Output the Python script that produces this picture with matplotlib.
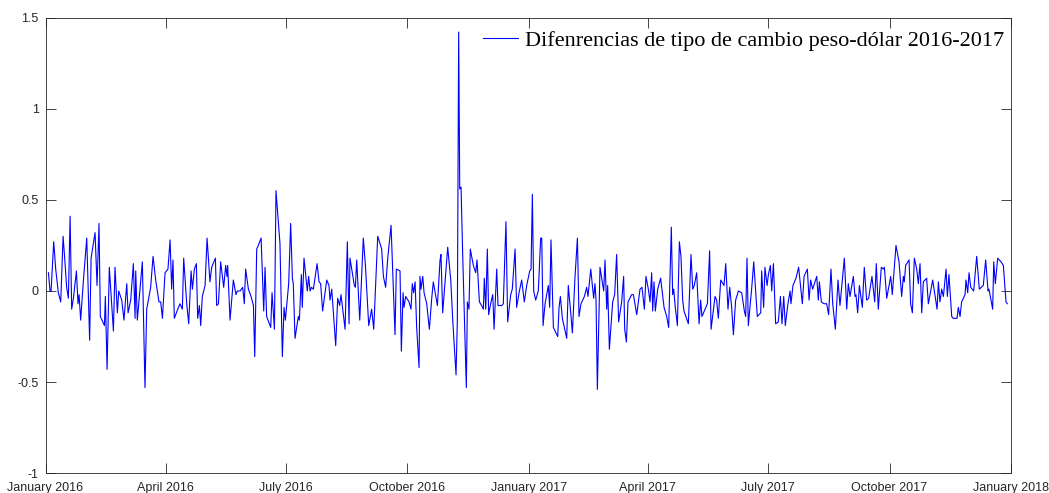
import numpy as np
import pandas as pd
import matplotlib
matplotlib.use('Agg')
import matplotlib.pyplot as plt
import matplotlib.dates as mdates
from matplotlib.ticker import FuncFormatter

plt.rcParams['axes.unicode_minus'] = False

# days since 1 Jan 2016
days = [2.2, 3.4, 4.2, 6.2, 7.7, 9.7, 11.5, 13.3, 14.8, 16.0, 17.3, 18.6, 19.8, 21.1,
        23.4, 24.6, 25.4, 26.6, 28.7, 31.2, 33.4, 34.5, 37.5, 39.0, 40.5, 41.5, 44.6,
        45.3, 46.6, 48.3, 51.4, 52.6, 54.4, 55.4, 57.7, 59.4, 61.5, 62.5, 64.5, 66.5,
        67.8,
        68.3, 69.5, 73.3, 75.3, 76.6, 79.6, 81.4, 83.4, 85.9, 87.2, 88.5, 90.5, 92.7,
        94.3, 95.5, 96.5, 97.5, 100.1, 101.8, 103.6, 104.6, 106.9, 108.4, 110.2, 111.2,
        112.7, 114.2, 115.2, 116.5, 117.5, 118.7, 120.8, 122.3, 124.5, 125.8, 128.6,
        129.6, 130.9, 132.6, 134.9, 136.4, 137.4, 137.9,
        139.7, 142.2, 144.2, 145.2, 147.3, 149.3, 150.5, 151.5, 153.6, 155.6, 157.4,
        158.4, 159.9, 161.1, 163.2, 165.2, 166.2, 167.4, 170.5, 171.5, 173.3, 174.5,
        177.5, 179.3, 180.6, 181.6, 184.1, 185.6, 186.9, 187.6, 188.9, 191.4, 192.2,
        193.7, 194.4, 195.7, 198.2, 199.2, 200.3, 201.3, 202.8, 205.6, 207.1, 208.3,
        209.8,
        211.6, 212.9, 214.6, 215.4, 216.7, 219.7, 221.2, 222.7, 223.7, 226.8, 228.5,
        229.8, 230.5, 231.8, 233.8, 234.6, 235.6, 237.9, 240.6, 242.2, 244.7, 246.9,
        248.5, 251.5, 254.5, 255.8, 257.5, 259.1, 261.6, 264.6, 265.6, 268.4, 269.4,
        270.7, 271.4, 272.7, 275.2, 276.7, 277.7, 278.7, 279.8, 281.0, 282.8,
        283.5, 284.3, 285.6, 286.6, 288.6, 290.6, 292.4, 293.6, 296.7, 298.7, 299.4,
        300.7, 304.5, 306.8, 308.3, 310.8, 311.8, 312.8, 313.6, 314.6, 315.8, 318.6,
        319.4, 320.6, 321.6, 323.9, 325.7, 326.7, 328.5, 330.2, 331.5, 332.2, 333.3,
        334.5, 335.5, 337.0, 338.6, 339.6, 341.6, 342.6, 345.4, 346.6, 348.6, 349.9,
        352.2, 353.4,
        355.5, 356.7, 358.5, 360.5, 362.5, 364.3, 366.6, 367.6, 368.6, 369.6, 371.1,
        373.1, 374.9, 375.7, 376.7, 378.2, 380.7, 381.7, 382.7, 384.5, 387.8, 388.8,
        389.8, 391.3, 394.6, 395.8, 397.4, 398.9, 400.9, 402.7, 403.9, 405.4, 408.0,
        409.7, 410.7, 412.8, 415.0, 416.0, 416.8, 417.8, 419.8, 422.6, 423.6, 424.9,
        425.6, 426.9,
        429.4, 430.9, 432.4, 433.9, 436.2, 437.7, 438.5, 439.8, 441.0, 443.8, 445.1,
        447.6, 450.1, 451.6, 453.4, 454.6, 456.4, 457.7, 458.9, 459.7, 460.7, 461.7,
        463.5, 465.7, 468.3, 470.3, 471.8, 473.8, 474.8, 475.6, 476.8, 478.4, 479.9,
        481.1, 482.4, 483.4, 486.7, 488.7, 490.0, 491.2, 493.0, 494.8, 496.0, 497.0,
        499.3, 501.1, 502.8, 503.9, 506.9, 508.1, 509.4, 511.2, 513.7, 515.0, 516.7,
        518.0, 519.5, 520.8, 522.5, 524.6, 527.1, 529.1, 530.1, 531.1, 532.1, 534.6,
        536.2, 538.9, 541.5, 542.2, 543.7, 544.7, 546.3, 547.3, 548.8, 549.8, 551.1,
        552.8, 554.8, 556.4, 557.6, 558.9, 560.1, 561.9, 563.7, 564.4, 565.9, 568.2,
        570.2,
        573.0, 574.3, 576.8, 578.1, 579.3, 580.8, 583.9, 585.1, 585.9, 587.4, 589.4,
        591.4, 592.9, 594.7, 596.0, 598.0, 600.0, 601.5, 604.8, 606.6, 607.8, 609.1,
        611.6, 612.9, 613.6, 614.9, 616.2, 618.4, 619.9, 621.7, 623.2, 625.7, 627.8,
        629.0, 630.5, 632.8, 634.3, 635.1, 636.9, 639.9, 641.1,
        643.9, 646.2, 648.2, 649.5, 650.2, 651.2, 653.8, 655.0, 656.3, 657.8, 659.6,
        660.8, 662.1, 663.4, 664.6, 667.1, 668.4, 671.7, 675.0, 676.0, 677.2, 678.5,
        679.8, 681.8, 682.8, 684.0, 686.1, 687.3, 690.1, 691.1, 692.4, 693.6, 696.2,
        696.9, 698.2, 699.2, 700.5, 702.7, 705.0, 707.0, 710.0, 711.8, 713.6, 714.3,
        717.1, 717.9, 719.1, 720.9, 723.4, 725.2, 727.2, 728.2]

# daily peso-dollar differences
dif = [0.10, 0.00, 0.00, 0.27, 0.12, -0.01, -0.06, 0.30, 0.15, 0.02, -0.04, 0.41, -0.10, -0.04,
       0.11, -0.07, -0.02, -0.16, 0.06, 0.29, -0.27, 0.18, 0.32, 0.03, 0.37, -0.14, -0.19,
       -0.03, -0.43, 0.13, -0.22, 0.13, -0.12, 0.00, -0.05, -0.16, 0.04, -0.12, -0.05, 0.15,
       -0.15,
       0.11, -0.16, 0.16, -0.53, -0.10, 0.02, 0.19, 0.06, -0.06, -0.06, -0.15, 0.10, 0.12,
       0.28, 0.01, 0.17, -0.15, -0.10, -0.07, -0.10, 0.18, -0.07, -0.18, 0.11, 0.01,
       0.12, 0.15, -0.15, -0.08, -0.19, -0.03, 0.03, 0.29, 0.05, 0.13, 0.18,
       -0.08, -0.07, 0.16, 0.02, 0.14, 0.08, 0.14,
       -0.16, 0.06, -0.02, 0.00, 0.00, 0.02, -0.07, 0.12, 0.01, -0.03, -0.08,
       -0.36, 0.23, 0.25, 0.29, -0.11, 0.13, -0.14, -0.20, -0.01, -0.21, 0.55,
       0.26, -0.36, -0.09, -0.16, 0.04, 0.37, 0.07, 0.04, -0.26, -0.14, -0.16,
       0.09, -0.09, 0.18, 0.00, 0.08, 0.00, 0.02, 0.01, 0.15, 0.05, 0.04,
       -0.11,
       -0.01, 0.06, 0.03, -0.05, 0.01, -0.30, -0.04, -0.08, -0.02, -0.21, 0.27,
       -0.18, 0.18, 0.12, 0.03, 0.02, 0.17, -0.16, 0.29, 0.14, -0.19, -0.10,
       -0.21, 0.30, 0.23, 0.08, 0.02, 0.18, 0.36, -0.24, 0.12, 0.11, -0.33,
       -0.01, -0.09, -0.03, -0.06, -0.10, 0.04, -0.01, 0.05, -0.20, -0.42,
       0.08, 0.01, 0.08, -0.01, -0.07, -0.21, -0.04, 0.05, -0.08, 0.17, 0.20,
       -0.12, 0.24, 0.06, -0.16, -0.46, -0.16, 1.42, 0.56, 0.57, 0.21, -0.53,
       -0.06, -0.10, 0.23, 0.14, 0.10, 0.17, -0.06, -0.08, -0.10, 0.07, -0.10,
       0.23, -0.13, -0.07, -0.02, -0.21, 0.12, -0.08, -0.08, -0.07, 0.38, -0.17,
       -0.02, 0.01,
       0.23, -0.09, -0.01, 0.06, -0.06, 0.03, 0.11, 0.12, 0.53, 0.00, -0.05,
       0.00, 0.29, 0.29, -0.19, -0.07, 0.03, -0.09, 0.28, -0.20, -0.25, -0.09,
       -0.03, -0.15, -0.26, 0.03, -0.10, -0.23, 0.08, 0.29, -0.14, -0.07, -0.03,
       0.02, -0.03, 0.12, -0.04, 0.04, -0.05, -0.54, 0.13, 0.00, 0.17, -0.10,
       0.03, -0.32,
       -0.06, -0.02, 0.20, -0.17, -0.06, 0.08, -0.21, -0.28, -0.06, -0.02, -0.02,
       -0.13, 0.01, 0.02, -0.10, 0.08, 0.01, -0.06, 0.10, -0.11, 0.05, -0.11,
       0.01, 0.07, -0.09, -0.14, -0.20, 0.35, -0.02, 0.01, -0.09, -0.19, 0.27,
       0.19, -0.05, -0.11, -0.18, 0.20, 0.01, 0.03, 0.10, -0.18, -0.05, -0.14,
       -0.10, -0.07, 0.22, -0.21, -0.03, -0.05, -0.15, 0.06, 0.03, 0.15, -0.10,
       0.02, -0.09, -0.24, -0.05, 0.00, -0.01, -0.11, -0.14, 0.18, -0.19, 0.01,
       0.16, -0.14, -0.12, 0.11, -0.09, 0.13, 0.03, 0.09, 0.14, 0.00, 0.15,
       -0.18, -0.17, -0.03, -0.18, -0.03, -0.19, -0.08, 0.00, -0.07, 0.03, 0.07,
       0.13,
       -0.07, 0.08, 0.12, -0.05, 0.06, 0.01, 0.08, -0.05, 0.05, -0.06, -0.07,
       -0.07, -0.13, 0.12, -0.07, -0.21, 0.06, -0.08, 0.18, -0.10, 0.04, -0.03,
       0.08, -0.03, -0.02, -0.12, 0.03, -0.09, 0.13, -0.05, -0.04, 0.08, -0.06,
       0.15, -0.10, 0.13, 0.12, 0.13, -0.04, 0.08, -0.02,
       0.25, 0.16, -0.03, 0.08, 0.05, 0.14, 0.17, -0.07, -0.12, 0.18, 0.12,
       0.04, 0.15, -0.12, 0.05, 0.07, -0.07, 0.06, -0.10, 0.05, -0.06, 0.01,
       -0.03, 0.12, -0.03, 0.09, -0.14, -0.15, -0.15, -0.09, -0.14, -0.06, -0.02,
       0.06, -0.01, 0.10, 0.02, 0.00, 0.19, 0.01, 0.03, 0.17, 0.00, 0.01,
       -0.10, 0.16, 0.04, 0.18, 0.16, 0.14, -0.06, -0.07]

yticks = [-1, -0.5, 0, 0.5, 1, 1.5]
label = 'Difenrencias de tipo de cambio peso-dólar 2016-2017'

dates = pd.Timestamp('2016-01-01') + pd.to_timedelta(days, unit='D')

fig = plt.figure(figsize=(10.49, 4.93), dpi=100)
ax = fig.add_axes([0.0434, 0.0400, 0.9204, 0.9245])

ax.plot(dates, dif, color='#0000ff', lw=0.8, label=label)

ax.set_xlim(pd.Timestamp('2016-01-01'), pd.Timestamp('2018-01-01'))
ax.set_ylim(-1, 1.5)
ax.set_yticks(yticks)
ax.yaxis.set_major_formatter(FuncFormatter(lambda v, p: '%g' % v))
ax.xaxis.set_major_locator(mdates.MonthLocator(bymonth=[1, 4, 7, 10]))
ax.xaxis.set_major_formatter(mdates.DateFormatter('%B %Y'))

for s in ax.spines.values():
    s.set_color('#262626')
    s.set_linewidth(0.6)
ax.tick_params(direction='in', top=True, right=True, length=7, width=0.6,
               color='#262626', labelcolor='#262626', labelsize=9)
ax.tick_params(axis='x', pad=6)
ax.tick_params(axis='y', pad=5)
for t in ax.get_xticklabels() + ax.get_yticklabels():
    t.set_fontfamily('Liberation Sans')

ax.legend(loc='upper right', bbox_to_anchor=(0.993, 0.972), frameon=False,
          prop={'family': 'Liberation Serif', 'size': 16}, handlelength=1.6,
          handletextpad=0.3, borderpad=0, borderaxespad=0)

fig.savefig('out.png', dpi=100)
